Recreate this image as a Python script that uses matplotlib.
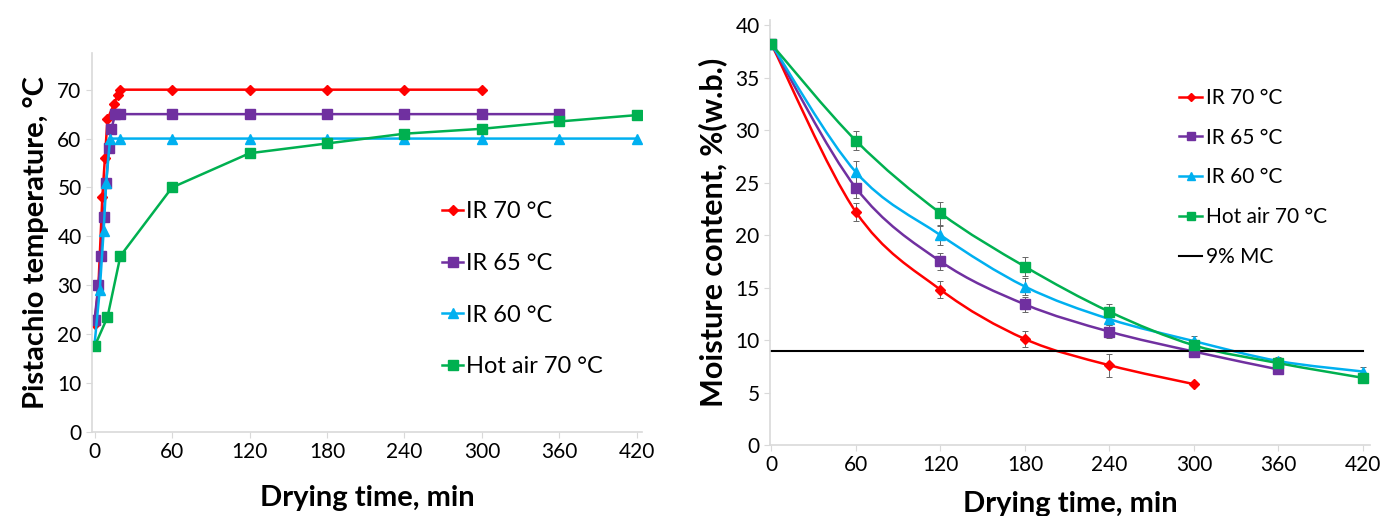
import matplotlib.pyplot as plt
from matplotlib.path import Path
from matplotlib.patches import PathPatch
from matplotlib.lines import Line2D
import numpy as np

plt.rcParams['font.family'] = ['Lato', 'DejaVu Sans']

# temperature curves (left)
t70 = [0, 3, 6, 8, 10, 15, 18, 20, 60, 120, 180, 240, 300]
T70 = [22, 30, 48, 56, 64, 67, 69, 70, 70, 70, 70, 70, 70]
t65 = [0, 3, 5, 7, 9, 11, 13, 16, 20, 60, 120, 180, 240, 300, 360]
T65 = [23, 30, 36, 44, 51, 58, 62, 65, 65, 65, 65, 65, 65, 65, 65]
t60 = [0, 4, 7, 9, 12, 20, 60, 120, 180, 240, 300, 360, 420]
T60 = [18, 29, 41, 51, 60, 60, 60, 60, 60, 60, 60, 60, 60]
tha = [0, 10, 20, 60, 120, 180, 240, 300, 360, 420]
Tha = [17.5, 23.5, 36, 50, 57, 59, 61, 62, 63.5, 64.8]

# moisture content curves (right)
mc_t = [0, 60, 120, 180, 240, 300, 360, 420]
mc70 = [38.2, 22.2, 14.8, 10.1, 7.6, 5.8]
mc65 = [38.2, 24.5, 17.5, 13.4, 10.8, 8.9, 7.2]
mc60 = [38.2, 26.0, 20.0, 15.1, 12.0, 9.9, 8.0, 7.0]
mcha = [38.2, 29.0, 22.1, 17.0, 12.7, 9.5, 7.8, 6.4]
err70 = [0, 0.9, 0.8, 0.8, 1.1, 0]
err65 = [0, 1.0, 0.8, 0.7, 0.6, 0.5, 0.4]
err60 = [0, 1.1, 0.9, 0.8, 0.6, 0.5, 0.4, 0.4]
errha = [0, 0.9, 1.1, 0.9, 0.7, 0.5, 0.4, 0.4]
mc_limit = 9

labels = ['IR 70 °C', 'IR 65 °C', 'IR 60 °C', 'Hot air 70 °C']
colors = ['#ff0000', '#7030a0', '#00b0f0', '#00b050']
markers = ['D', 's', '^', 's']
msizes = [5, 7.5, 6.5, 7.5]


def smooth_path(x, y):
    # Catmull-Rom style cubic segments through the points
    pts = np.column_stack([x, y]).astype(float)
    n = len(pts)
    verts = [pts[0]]
    codes = [Path.MOVETO]
    for i in range(n - 1):
        p0 = pts[max(i - 1, 0)]
        p1 = pts[i]
        p2 = pts[i + 1]
        p3 = pts[min(i + 2, n - 1)]
        c1 = p1 + (p2 - p0) / 6.0
        c2 = p2 - (p3 - p1) / 6.0
        verts += [c1, c2, p2]
        codes += [Path.CURVE4] * 3
    return Path(verts, codes)


fig = plt.figure(figsize=(14, 5.16), dpi=100)
ax1 = fig.add_axes([92 / 1400, 1 - 432 / 516, 550 / 1400, 379 / 516])
ax2 = fig.add_axes([770 / 1400, 1 - 445 / 516, 600 / 1400, 425 / 516])

for ax in (ax1, ax2):
    for s in ('top', 'right'):
        ax.spines[s].set_visible(False)
    for s in ('left', 'bottom'):
        ax.spines[s].set_color('#d9d9d9')
        ax.spines[s].set_linewidth(1.2)
    ax.tick_params(colors='#d9d9d9', labelcolor='black', labelsize=15, length=4)
    ax.set_xticks(range(0, 421, 60))

# left panel
left_sets = [(t70, T70), (t65, T65), (t60, T60), (tha, Tha)]
for (x, y), c, m, ms, lab in zip(left_sets, colors, markers, msizes, labels):
    ax1.plot(x, y, color=c, lw=1.8, marker=m, ms=ms, label=lab)
ax1.set_xlim(-2, 424)
ax1.set_ylim(0, 77.5)
ax1.set_yticks(range(0, 71, 10))
ax1.set_xlabel('Drying time, min', fontsize=21, fontweight='bold', labelpad=16)
ax1.set_ylabel('Pistachio temperature, °C', fontsize=21, fontweight='bold', labelpad=6)
ax1.legend(loc='upper left', bbox_to_anchor=(0.615, 0.64), frameon=False,
           fontsize=17, handlelength=0.9, handletextpad=0.1, labelspacing=1.3,
           borderpad=0)

# right panel
right_sets = [(mc70, err70), (mc65, err65), (mc60, err60), (mcha, errha)]
for (y, e), c, m, ms in zip(right_sets, colors, markers, msizes):
    x = mc_t[:len(y)]
    ax2.add_patch(PathPatch(smooth_path(x, y), fill=False, edgecolor=c, lw=1.8))
    ax2.errorbar(x, y, yerr=e, fmt='none', ecolor='#666666', elinewidth=0.7,
                 capsize=2.5, capthick=0.7, zorder=3)
    ax2.plot(x, y, ls='none', marker=m, ms=ms, color=c, zorder=4)
ax2.plot([mc_t[0], mc_t[-1]], [mc_limit, mc_limit], color='black', lw=1.5)
ax2.set_xlim(-1, 425)
ax2.set_ylim(0, 40.5)
ax2.set_yticks(range(0, 41, 5))
ax2.set_xlabel('Drying time, min', fontsize=21, fontweight='bold', labelpad=11)
ax2.set_ylabel('Moisture content, %(w.b.)', fontsize=22, fontweight='bold', labelpad=6)

handles = [Line2D([], [], color=c, lw=1.8, marker=m, ms=ms * 0.85)
           for c, m, ms in zip(colors, markers, msizes)]
handles.append(Line2D([], [], color='black', lw=1.5))
ax2.legend(handles, labels + ['9% MC'], loc='upper left',
           bbox_to_anchor=(0.665, 0.865), frameon=False, fontsize=15,
           handlelength=1.1, handletextpad=0.2, labelspacing=0.95, borderpad=0)

fig.savefig('out.png', dpi=100)
